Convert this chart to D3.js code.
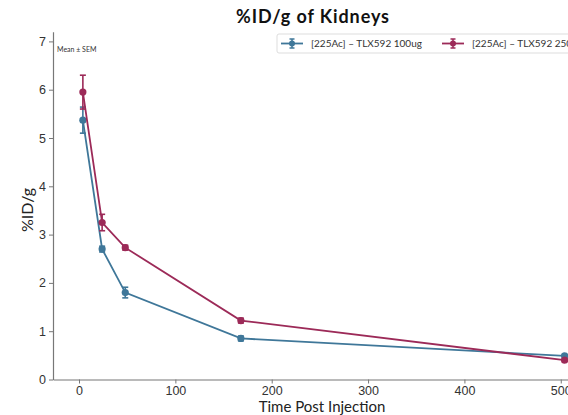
<!DOCTYPE html>
<html>
<head>
<meta charset="utf-8">
<script src="https://cdn.jsdelivr.net/npm/d3@7"></script>
<style>
  html, body { margin: 0; padding: 0; background: #fff; overflow: hidden; }
  svg { display: block; font-family: "Lato", "DejaVu Sans", sans-serif; }
</style>
</head>
<body>
<svg id="chart" width="568" height="415"></svg>
<script>
// Time points (hours post injection)
const timePoints = [4, 24, 48, 168, 504];
const seriesNames = ["[225Ac] – TLX592 100ug", "[225Ac] – TLX592 250ug"];
const mean100 = [5.37, 2.70, 1.80, 0.85, 0.49];
const sem100  = [0.27, 0.06, 0.11, 0.05, 0.03];
const mean250 = [5.95, 3.25, 2.73, 1.22, 0.40];
const sem250  = [0.35, 0.17, 0.05, 0.05, 0.03];
const xTicks = [0, 100, 200, 300, 400, 500];
const yTicks = [0, 1, 2, 3, 4, 5, 6, 7];
const colors = ["#3f7799", "#9c2a58"];

const svg = d3.select("#chart");
const plotLeft = 53, plotBottom = 379.5;

const x = d3.scaleLinear().domain([-27, 530]).range([plotLeft, plotLeft + 557 * 0.9635]);
const y = d3.scaleLinear().domain([0, 7.2]).range([plotBottom, plotBottom - 7.2 * 48.3]);

// Axes
const xAxis = svg.append("g").attr("transform", `translate(0,${plotBottom})`)
  .call(d3.axisBottom(x).tickValues(xTicks).tickSize(4).tickSizeOuter(0).tickPadding(3));
const yAxis = svg.append("g").attr("transform", `translate(${plotLeft},0)`)
  .call(d3.axisLeft(y).tickValues(yTicks).tickSize(4).tickSizeOuter(0).tickPadding(3));
[xAxis, yAxis].forEach(a => {
  a.select(".domain").attr("stroke", "#777").attr("stroke-width", 1.2);
  a.selectAll(".tick line").attr("stroke", "#777").attr("stroke-width", 1);
  a.selectAll(".tick text").attr("fill", "#333").style("font-size", "12.5px")
    .style("font-family", "inherit");
});

// Series
const series = [
  { name: seriesNames[0], mean: mean100, sem: sem100, color: colors[0] },
  { name: seriesNames[1], mean: mean250, sem: sem250, color: colors[1] }
];
const line = d3.line().x(d => x(d.t)).y(d => y(d.m));

series.forEach(s => {
  const pts = timePoints.map((t, i) => ({ t, m: s.mean[i], e: s.sem[i] }));
  const g = svg.append("g");
  g.append("path").datum(pts).attr("d", line)
    .attr("fill", "none").attr("stroke", s.color).attr("stroke-width", 1.8);
  const eb = g.selectAll(".eb").data(pts).join("g");
  eb.append("line").attr("x1", d => x(d.t)).attr("x2", d => x(d.t))
    .attr("y1", d => y(d.m - d.e)).attr("y2", d => y(d.m + d.e))
    .attr("stroke", s.color).attr("stroke-width", 1.6);
  [-1, 1].forEach(k => {
    eb.append("line").attr("x1", d => x(d.t) - 3).attr("x2", d => x(d.t) + 3)
      .attr("y1", d => y(d.m + k * d.e)).attr("y2", d => y(d.m + k * d.e))
      .attr("stroke", s.color).attr("stroke-width", 1.6);
  });
  eb.append("circle").attr("cx", d => x(d.t)).attr("cy", d => y(d.m)).attr("r", 3.6)
    .attr("fill", s.color);
});

// Title and labels
svg.append("text").attr("x", 313).attr("y", 23).attr("text-anchor", "middle")
  .style("font-size", "18px").style("font-weight", "bold").style("letter-spacing", "0.9px")
  .attr("fill", "#111")
  .text("%ID/g of Kidneys");
svg.append("text").attr("x", 57).attr("y", 52).style("font-size", "7px").attr("fill", "#333")
  .text("Mean ± SEM");
svg.append("text").attr("transform", "translate(33,210) rotate(-90)").attr("text-anchor", "middle")
  .style("font-size", "16px").attr("fill", "#222").text("%ID/g");
svg.append("text").attr("x", 322).attr("y", 412).attr("text-anchor", "middle")
  .style("font-size", "15px").attr("fill", "#222").text("Time Post Injection");

// Legend
const lg = svg.append("g").attr("transform", "translate(277,34)");
lg.append("rect").attr("x", 0).attr("y", 0).attr("width", 330).attr("height", 19).attr("rx", 2)
  .attr("fill", "#fff").attr("stroke", "#ddd");
series.forEach((s, i) => {
  const ox = 4 + i * 161;
  const item = lg.append("g").attr("transform", `translate(${ox},9.5)`);
  item.append("line").attr("x1", 0).attr("x2", 22).attr("stroke", s.color).attr("stroke-width", 1.8);
  item.append("line").attr("x1", 11).attr("x2", 11).attr("y1", -4.5).attr("y2", 4.5)
    .attr("stroke", s.color).attr("stroke-width", 1.5);
  [-4.5, 4.5].forEach(v => item.append("line").attr("x1", 8.5).attr("x2", 13.5)
    .attr("y1", v).attr("y2", v).attr("stroke", s.color).attr("stroke-width", 1.5));
  item.append("circle").attr("cx", 11).attr("r", 3).attr("fill", s.color);
  item.append("text").attr("x", 30).attr("y", 3.5).style("font-size", "10px").attr("fill", "#333")
    .text(s.name);
});
</script>
</body>
</html>
